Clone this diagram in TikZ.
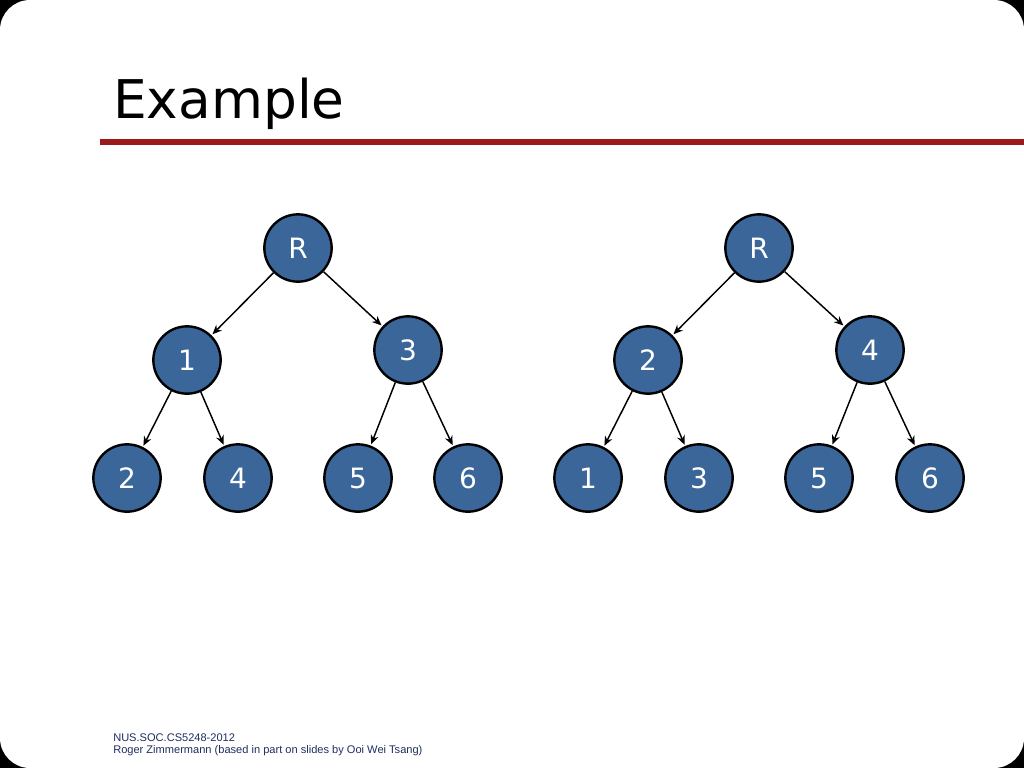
\documentclass[tikz,border=0pt]{standalone}
\usepackage{fontspec}
\setmainfont{DejaVu Sans}
\newfontfamily\footfont{Liberation Sans}
\usetikzlibrary{arrows.meta}
\definecolor{nodeblue}{HTML}{3A6699}
\definecolor{barred}{HTML}{9B1B1B}
\definecolor{foot}{HTML}{1F2F5F}
\tikzset{
  tn/.style={circle,draw=black,line width=1.8pt,fill=nodeblue,minimum size=50.5pt,inner sep=0pt,text=white,font=\fontsize{21}{24}\selectfont},
  edge/.style={-{Stealth[length=7pt,width=6pt]},line width=1.1pt,shorten >=1pt}
}
\begin{document}
\begin{tikzpicture}[x=0.75pt,y=-0.75pt]
\useasboundingbox (0,0) rectangle (1024,768);
\fill[black] (0,0) rectangle (1024,768);
\fill[white,rounded corners=22.5pt] (0,0) rectangle (1024,768);
\node[anchor=base west,inner sep=0pt,font=\fontsize{40}{44}\selectfont] (title) at (113,118) {Example};
\fill[barred] (100,139) rectangle (1024,145);
% tree 1
\node[tn] (r1) at (298,248) {R};
\node[tn] (a1) at (187,360) {1};
\node[tn] (b1) at (408,350) {3};
\node[tn] (c1) at (127,478) {2};
\node[tn] (d1) at (238,478) {4};
\node[tn] (e1) at (358,478) {5};
\node[tn] (f1) at (468,478) {6};
% tree 2
\node[tn] (r2) at (759,248) {R};
\node[tn] (a2) at (648,360) {2};
\node[tn] (b2) at (870,350) {4};
\node[tn] (c2) at (588,478) {1};
\node[tn] (d2) at (699,478) {3};
\node[tn] (e2) at (819,478) {5};
\node[tn] (f2) at (930,478) {6};
\foreach \s/\t in {r1/a1,r1/b1,a1/c1,a1/d1,b1/e1,b1/f1,r2/a2,r2/b2,a2/c2,a2/d2,b2/e2,b2/f2}
  \draw[edge] (\s) -- (\t);
\node[anchor=base west,inner sep=0pt,text=foot,font=\footfont\fontsize{8.3}{10}\selectfont] (f1t) at (113,741) {NUS.SOC.CS5248-2012};
\node[anchor=base west,inner sep=0pt,text=foot,font=\footfont\fontsize{8.3}{10}\selectfont] (f2t) at (113,753) {Roger Zimmermann (based in part on slides by Ooi Wei Tsang)};
\end{tikzpicture}
\end{document}
